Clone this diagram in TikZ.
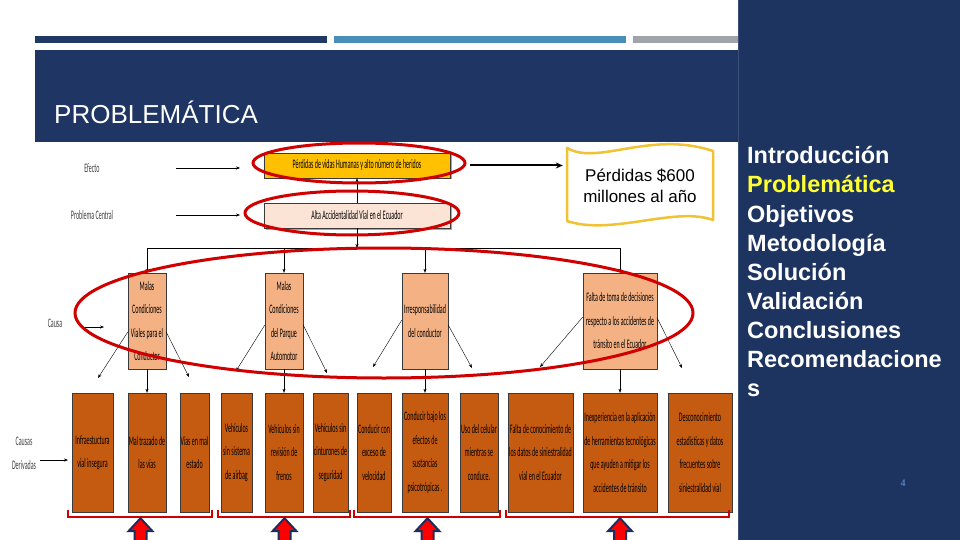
\documentclass[tikz,border=0pt]{standalone}
\usepackage{fontspec}
\setmainfont{Liberation Sans}
\newfontfamily\boxfont{Carlito}[FakeStretch=0.46]
\newfontfamily\numfont{Liberation Serif}
\usepackage{xcolor}
\usetikzlibrary{arrows.meta,positioning,calc,shadows}

\definecolor{barnavy}{HTML}{1F3864}
\definecolor{barblue}{HTML}{4A8DB9}
\definecolor{bargray}{HTML}{A0A4AA}
\definecolor{bandnavy}{HTML}{1F3563}
\definecolor{panelnavy}{HTML}{1D3461}
\definecolor{panelline}{HTML}{3A4F7A}
\definecolor{menuyel}{HTML}{FFFF33}
\definecolor{pagenum}{HTML}{4F81BD}
\definecolor{effgold}{HTML}{FFC000}
\definecolor{centpeach}{HTML}{FBE3D6}
\definecolor{causesalmon}{HTML}{F4B183}
\definecolor{derivorange}{HTML}{C55A11}
\definecolor{boxline}{HTML}{3A3A3A}
\definecolor{ringred}{HTML}{D00000}
\definecolor{wavegold}{HTML}{F2C233}
\definecolor{blockedge}{HTML}{1F2D5A}

\begin{document}
\begin{tikzpicture}[x=1pt, y=-1pt,
    effbox/.style={rectangle, draw=boxline, fill=effgold, minimum width=186pt, minimum height=25pt, inner sep=0pt,
        drop shadow={shadow xshift=1.5pt, shadow yshift=-1.5pt, fill=gray!70, opacity=1},
        font={\boxfont\fontsize{13}{14}\selectfont}},
    centbox/.style={effbox, fill=centpeach},
    causebox/.style={rectangle, draw=boxline, fill=causesalmon, minimum height=96pt, inner sep=0pt, align=center,
        font={\boxfont\fontsize{13}{23.5}\selectfont}},
    dervbox/.style={rectangle, draw=boxline, fill=derivorange, minimum height=119pt, inner sep=0pt, align=center,
        font={\boxfont\fontsize{13}{23.5}\selectfont}},
    lbl/.style={font={\boxfont\fontsize{13}{24}\selectfont}, text=black!75, align=center, inner sep=0pt},
    conn/.style={-{Stealth[length=4pt,width=3pt]}, thin, black},
    redring/.style={draw=ringred, line width=3pt},
    bracket/.style={draw=ringred, line width=2pt},
    upblock/.style={fill=red, draw=blockedge, line width=2pt, line join=miter},
    menu/.style={anchor=base west, inner sep=0pt, font={\bfseries\fontsize{23.5}{29}\selectfont}}
]
    % Slide background
    \fill[white] (0,0) rectangle (960,540);
    \useasboundingbox (0,0) rectangle (960,540);
    \fill[barnavy] (35,36) rectangle (327,43);
    \fill[barblue] (334,36) rectangle (626,43);
    \fill[bargray] (633,36) rectangle (740,43);
    \fill[bandnavy] (35,50) rectangle (740,142);
    \node[anchor=base west, inner sep=0pt, text=white, font=\fontsize{26}{30}\selectfont] (title) at (54,124) {PROBLEMÁTICA};

    % Menu panel
    \fill[panelnavy] (738,0) rectangle (960,540);
    \draw[panelline, line width=1pt] (738,0) -- (738,540);
    \foreach \item/\col [count=\i from 0] in {Introducción/white, Problemática/menuyel, Objetivos/white,
        Metodología/white, Solución/white, Validación/white, Conclusiones/white, Recomendacione/white, s/white}
        \node[menu, text=\col] (m\i) at (747,{164+29*\i}) {\item};
    \node[font={\numfont\bfseries\fontsize{10}{12}\selectfont}, text=pagenum] (pnum) at (903,483) {4};

    % Levels on the left
    \node[lbl] (lefecto) at (92,168) {Efecto};
    \node[lbl] (lcentral) at (92,215) {Problema Central};
    \node[lbl] (lcausa) at (55,323) {Causa};
    \node[lbl] (lderiv) at (24,453) {Causas\\Derivadas};

    % Effect and central problem
    \node[effbox] (effect) at (357,165.5) {Pérdidas de vidas Humanas y alto número de heridos};
    \node[centbox] (central) at (357,215.5) {Alta Accidentalidad Vial en el Ecuador};

    \coordinate (efA) at (176,168);
    \coordinate (efB) at (240,168);
    \coordinate (ceA) at (176,215);
    \coordinate (ceB) at (240,215);
    \coordinate (caA) at (82,327);
    \coordinate (caB) at (104,327);
    \coordinate (deA) at (40,460);
    \coordinate (deB) at (68,460);
    \draw[conn] (efA) -- (efB);
    \draw[conn] (ceA) -- (ceB);
    \draw[conn] (caA) -- (caB);
    \draw[conn] (deA) -- (deB);

    \draw[conn] (central.north) -- (effect.south);

    % Causes
    \node[causebox, minimum width=38pt] (c1) at (147,321) {Malas\\Condiciones\\Viales para el\\Conductor};
    \node[causebox, minimum width=38pt] (c2) at (284,321) {Malas\\Condiciones\\del Parque\\Automotor};
    \node[causebox, minimum width=46pt] (c3) at (425,321) {Irresponsabilidad\\del conductor};
    \node[causebox, minimum width=74pt] (c4) at (620,321) {Falta de toma de decisiones\\respecto a los accidentes de\\tránsito en el Ecuador};

    \coordinate (busL) at (147,248);
    \coordinate (busR) at (620,248);
    \draw[conn] (central.south) -- (central.south |- busL);
    \draw[thin] (busL) -- (busR);
    \foreach \c in {c1,c2,c3,c4}
        \draw[conn] (\c.north |- busL) -- (\c.north);

    % Derived causes
    \node[dervbox, minimum width=41pt] (d1) at (92.5,452.5) {Infraestuctura\\vial insegura};
    \node[dervbox, minimum width=38pt] (d2) at (147,452.5) {Mal trazado de\\las vías};
    \node[dervbox, minimum width=29pt] (d3) at (194.5,452.5) {Vías en mal\\estado};
    \node[dervbox, minimum width=31pt] (d4) at (236.5,452.5) {Vehículos\\sin sistema\\de airbag};
    \node[dervbox, minimum width=38pt] (d5) at (284,452.5) {Vehículos sin\\revisión de\\frenos};
    \node[dervbox, minimum width=35pt] (d6) at (330.5,452.5) {Vehículos sin\\cinturones de\\seguridad};
    \node[dervbox, minimum width=34pt] (d7) at (374,452.5) {Conducir con\\exceso de\\velocidad};
    \node[dervbox, minimum width=46pt] (d8) at (425,452.5) {Conducir bajo los\\efectos de\\sustancias\\psicotrópicas .};
    \node[dervbox, minimum width=38pt] (d9) at (479,452.5) {Uso del celular\\mientras se\\conduce.};
    \node[dervbox, minimum width=65pt] (d10) at (540.5,452.5) {Falta de conocimiento de\\los datos de siniestralidad\\vial en el Ecuador};
    \node[dervbox, minimum width=74pt] (d11) at (620,452.5) {Inexperiencia en la aplicación\\de herramientas tecnológicas\\que ayuden a mitigar los\\accidentes de tránsito};
    \node[dervbox, minimum width=64pt] (d12) at (700,452.5) {Desconocimiento\\estadísticas y datos\\frecuentes sobre\\siniestralidad vial};

    \draw[conn] (c1.south) -- (d2.north);
    \draw[conn] (c2.south) -- (d5.north);
    \draw[conn] (c3.south) -- (d8.north);
    \draw[conn] (c4.south) -- (d11.north);

    % Side arrows out of the causes
    \coordinate (c1l) at (98,378);
    \coordinate (c1r) at (189,377);
    \coordinate (c2l) at (236,371);
    \coordinate (c2r) at (327,373);
    \coordinate (c3l) at (373,367);
    \coordinate (c3r) at (472,368);
    \coordinate (c4l) at (540,367);
    \coordinate (c4r) at (682,368);
    \draw[conn] ([yshift=-11pt]c1.west) -- (c1l);
    \draw[conn] ([yshift=-11pt]c1.east) -- (c1r);
    \draw[conn] ([yshift=-4pt]c2.west) -- (c2l);
    \draw[conn] ([yshift=-4pt]c2.east) -- (c2r);
    \draw[conn] ([yshift=1pt]c3.west) -- (c3l);
    \draw[conn] ([yshift=-4pt]c3.east) -- (c3r);
    \draw[conn] ([yshift=4pt]c4.west) -- (c4l);
    \draw[conn] ([yshift=3pt]c4.east) -- (c4r);

    % Red rings
    \draw[redring] (359,163) ellipse [x radius=106, y radius=20];
    \draw[redring] (352,213) ellipse [x radius=107, y radius=22];
    \draw[redring] (384,313) ellipse [x radius=309, y radius=65];

    % Losses banner
    \node[font=\fontsize{17}{21}\selectfont, align=center, minimum width=146pt, minimum height=72pt, inner sep=0pt] (loss) at (640,186) {Pérdidas \$600\\millones al año};
    \draw[wavegold, line width=2.5pt, line join=round]
        (567,148) .. controls (598,166) and (650,130) .. (713,151) -- (713,220)
        .. controls (675,206) and (612,236) .. (567,221) -- cycle;
    \draw[-{Stealth[length=7pt,width=6pt]}, line width=2pt] ([xshift=20pt]effect.east) -- ($(loss.west |- effect.east)+(-4,0)$);

    % Groups and block arrows
    \draw[bracket] ($(d1.south west)+(-4,-2)$) -- ++(0,7) -| ($(d3.south east)+(3,-2)$);
    \draw[bracket] ($(d4.south west)+(-3,-2)$) -- ++(0,7) -| ($(d6.south east)+(2,-2)$);
    \draw[bracket] ($(d7.south west)+(-3,-2)$) -- ++(0,7) -| ($(d9.south east)+(2,-2)$);
    \draw[bracket] ($(d10.south west)+(-2,-2)$) -- ++(0,7) -| ($(d12.south east)+(-3,-2)$);
    \coordinate (g1) at ($(d1.south west)!0.5!(d3.south east)+(0,6)$);
    \coordinate (g2) at ($(d4.south west)!0.5!(d6.south east)+(0,6)$);
    \coordinate (g3) at ($(d7.south west)!0.5!(d9.south east)+(0,6)$);
    \coordinate (g4) at ($(d10.south west)!0.5!(d12.south east)+(0,6)$);
    \foreach \g in {g1,g2,g3,g4}
        \filldraw[upblock] (\g) -- ++(12,13) -- ++(-6,0) -- ++(0,14) -- ++(-12,0) -- ++(0,-14) -- ++(-6,0) -- cycle;
\end{tikzpicture}
\end{document}
